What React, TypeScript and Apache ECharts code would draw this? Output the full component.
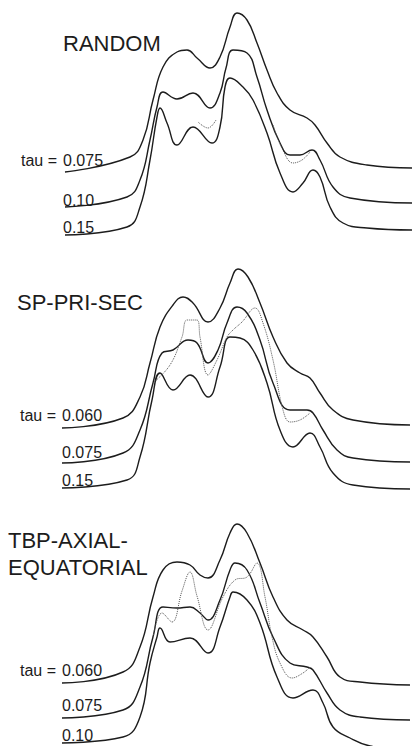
import React, { useEffect, useRef } from "react";
import * as echarts from "echarts";

// x: scattering variable (arbitrary units), y: intensity (arbitrary units, offset per curve)
// Panel 1: RANDOM
const randomTau0075: number[][] = [
  [6.5, 7.8], [13.0, 9.3], [14.3, 11.0], [15.3, 15.0], [16.3, 18.3], [17.7, 19.8], [18.7, 20.0],
  [19.7, 19.2], [21.0, 18.2], [22.0, 19.3], [23.0, 22.3], [23.7, 23.7], [24.7, 23.0], [25.7, 20.7],
  [26.7, 18.0], [27.7, 15.7], [29.0, 14.0], [30.7, 13.2], [31.5, 12.5], [32.7, 10.7], [34.0, 9.3],
  [36.7, 8.5], [41.2, 8.2],
];
const randomTau010: number[][] = [
  [6.5, 4.3], [12.7, 5.3], [14.0, 7.0], [15.0, 11.0], [15.7, 14.3], [16.3, 15.8], [17.7, 15.1],
  [19.3, 15.7], [21.0, 14.2], [22.0, 15.7], [22.6, 18.2], [23.3, 20.0], [24.7, 19.7], [25.7, 17.3],
  [26.7, 14.0], [28.0, 10.7], [29.0, 9.5], [30.0, 9.5], [31.2, 10.0], [32.0, 9.0], [33.3, 6.3],
  [35.0, 5.2], [41.2, 4.7],
];
const randomTau015: number[][] = [
  [6.5, 1.5], [12.7, 2.3], [14.0, 4.3], [15.0, 9.0], [15.7, 13.3], [16.0, 14.2], [16.7, 12.7],
  [17.7, 10.5], [19.3, 12.3], [21.2, 10.7], [22.0, 12.3], [22.5, 16.3], [23.0, 17.2], [24.3, 16.3],
  [25.3, 15.0], [26.7, 11.7], [28.0, 7.7], [29.3, 5.8], [30.3, 6.7], [31.3, 8.0], [32.0, 7.3],
  [33.0, 4.3], [34.3, 2.7], [36.7, 2.2], [41.2, 2.0],
];
const randomExpA: number[][] = [[19.8, 12.8], [20.8, 12.2], [21.6, 13.0]];
const randomExpB: number[][] = [[27.3, 12.5], [28.2, 10.2], [29.3, 8.7], [30.2, 9.0], [31.0, 9.8]];

// Panel 2: SP-PRI-SEC
const spTau0060: number[][] = [
  [6.2, 7.2], [12.3, 8.2], [14.0, 10.3], [15.0, 13.7], [16.0, 17.3], [17.3, 19.5], [18.3, 20.3],
  [19.3, 19.7], [20.8, 17.8], [22.0, 19.2], [23.0, 21.7], [23.8, 23.1], [24.8, 22.3], [26.0, 19.7],
  [27.3, 16.3], [28.7, 13.7], [30.0, 12.7], [31.0, 12.2], [32.0, 10.7], [33.3, 9.0], [35.3, 8.0],
  [41.0, 7.5],
];
const spTau0075: number[][] = [
  [6.2, 3.7], [12.3, 4.7], [14.0, 7.0], [15.3, 11.7], [16.2, 14.7], [17.3, 15.0], [18.8, 16.0],
  [19.7, 15.7], [20.8, 13.7], [21.8, 15.0], [22.7, 17.7], [23.7, 19.3], [24.7, 18.7], [26.0, 16.0],
  [27.3, 11.7], [29.0, 9.0], [30.7, 9.0], [31.3, 8.7], [32.3, 7.0], [33.7, 5.0], [35.3, 4.2],
  [41.0, 3.8],
];
const spTau015: number[][] = [
  [6.2, 1.2], [12.7, 2.0], [14.0, 4.3], [15.2, 10.0], [16.0, 12.7], [17.3, 11.0], [19.0, 12.5],
  [20.8, 10.3], [22.0, 13.3], [23.0, 16.3], [24.0, 16.2], [25.3, 15.0], [26.7, 11.7], [28.0, 7.0],
  [29.3, 5.3], [31.0, 6.7], [32.0, 5.3], [33.3, 2.7], [35.3, 1.5], [41.0, 1.1],
];
const spExp: number[][] = [
  [15.3, 11.7], [17.0, 13.5], [18.2, 16.3], [18.7, 18.0], [19.7, 18.0], [20.0, 16.3], [20.8, 12.5],
  [21.7, 14.0], [22.7, 16.3], [23.3, 17.0], [24.2, 17.8], [25.5, 19.2], [26.3, 17.7], [27.3, 14.0],
  [28.3, 9.0], [29.0, 7.8], [30.0, 8.0], [31.0, 8.7],
];

// Panel 3: TBP-AXIAL-EQUATORIAL
const tbpTau0060: number[][] = [
  [6.2, 6.3], [12.3, 7.4], [14.0, 9.9], [15.3, 14.9], [16.3, 17.6], [17.7, 18.4], [19.0, 18.1],
  [20.0, 17.1], [20.8, 16.8], [22.0, 18.6], [23.0, 21.3], [23.7, 22.2], [24.7, 21.3], [26.0, 18.3],
  [27.3, 14.9], [28.7, 12.6], [30.3, 11.6], [31.3, 10.9], [32.7, 8.9], [34.0, 6.9], [36.0, 6.4],
  [41.0, 6.1],
];
const tbpTau0075: number[][] = [
  [6.2, 2.8], [12.3, 3.6], [14.0, 5.9], [15.3, 10.9], [16.3, 13.9], [17.7, 13.8], [19.0, 13.9],
  [20.0, 13.3], [20.8, 12.6], [22.0, 14.6], [23.0, 17.6], [23.5, 18.3], [24.7, 17.6], [26.0, 14.3],
  [27.3, 10.9], [29.0, 8.3], [30.7, 7.9], [31.3, 7.6], [32.7, 5.3], [34.0, 3.6], [36.0, 2.9],
  [41.0, 2.6],
];
const tbpTau010: number[][] = [
  [6.2, 0.3], [12.3, 0.9], [14.0, 2.9], [15.0, 8.3], [15.7, 10.9], [16.0, 11.8], [17.0, 10.4],
  [19.0, 10.8], [20.8, 9.3], [22.0, 11.9], [23.0, 14.9], [23.3, 15.4], [24.7, 14.6], [26.0, 12.3],
  [27.7, 6.9], [29.3, 4.8], [31.3, 5.6], [32.3, 4.3], [33.3, 1.9], [35.0, 0.8], [37.0, 0.0],
  [41.2, -0.6],
];
const tbpExp: number[][] = [
  [15.3, 10.9], [16.2, 13.3], [17.2, 12.4], [18.2, 15.5], [19.0, 17.4], [19.7, 15.0], [20.8, 11.6],
  [22.3, 14.9], [23.5, 16.6], [24.7, 16.9], [25.7, 18.3], [26.5, 14.9], [27.2, 10.9], [28.0, 8.3],
  [29.2, 6.8], [30.3, 7.3], [31.0, 7.9],
];

const panelTitles: string[][] = [["RANDOM"], ["SP-PRI-SEC"], ["TBP-AXIAL-", "EQUATORIAL"]];
const panelTauLabels: string[][] = [
  ["0.075", "0.10", "0.15"],
  ["0.060", "0.075", "0.15"],
  ["0.060", "0.075", "0.10"],
];

const INK = "#1c1c1c";

export default function App() {
  const ref = useRef<HTMLDivElement>(null);
  useEffect(() => {
    if (!ref.current) return;
    const chart = echarts.init(ref.current, undefined, { renderer: "svg" });

    const grids = [
      { left: 0, top: 0, width: 412, height: 250 },
      { left: 0, top: 250, width: 412, height: 250 },
      { left: 0, top: 496, width: 412, height: 250 },
    ];
    const xAxes = grids.map((_, i) => ({ type: "value", gridIndex: i, min: 0, max: 41.2, show: false }));
    const yAxes = grids.map((_, i) => ({ type: "value", gridIndex: i, min: 0, max: 25, show: false }));

    const solid = (data: number[][], idx: number) => ({
      type: "line",
      xAxisIndex: idx,
      yAxisIndex: idx,
      data,
      smooth: 0.45,
      showSymbol: false,
      clip: false,
      lineStyle: { color: INK, width: 1.4 },
      silent: true,
    });
    const dotted = (data: number[][], idx: number) => ({
      type: "line",
      xAxisIndex: idx,
      yAxisIndex: idx,
      data,
      smooth: 0.4,
      showSymbol: false,
      clip: false,
      lineStyle: { color: "#555", width: 1, type: "dotted" },
      silent: true,
    });

    const series = [
      solid(randomTau0075, 0), solid(randomTau010, 0), solid(randomTau015, 0),
      dotted(randomExpA, 0), dotted(randomExpB, 0),
      solid(spTau0060, 1), solid(spTau0075, 1), solid(spTau015, 1), dotted(spExp, 1),
      solid(tbpTau0060, 2), solid(tbpTau0075, 2), solid(tbpTau010, 2), dotted(tbpExp, 2),
    ];

    const font = "'Liberation Sans', Arial, sans-serif";
    const titleStyle = (text: string, x: number, y: number) => ({
      type: "text",
      left: x,
      top: y,
      style: { text, font: `22px ${font}`, fill: INK },
    });
    const label = (text: string, x: number, y: number, align: string = "left") => ({
      type: "text",
      x,
      y,
      style: { text, font: `16px ${font}`, fill: INK, textAlign: align, textVerticalAlign: "middle" },
    });

    const titlePos = [
      [[63, 32]],
      [[17, 291]],
      [[8, 529], [8, 556]],
    ];
    const labelY = [
      [160, 200, 227],
      [415, 452, 480],
      [670, 705, 735],
    ];
    const labelX = [63, 62, 62];

    const graphic: any[] = [];
    panelTitles.forEach((lines, p) => {
      lines.forEach((t, k) => graphic.push(titleStyle(t, titlePos[p][k][0], titlePos[p][k][1])));
    });
    panelTauLabels.forEach((labs, p) => {
      labs.forEach((t, k) => graphic.push(label(t, labelX[p], labelY[p][k])));
      graphic.push(label("tau =", labelX[p] - 6, labelY[p][0], "right"));
    });

    chart.setOption({
      animation: false,
      backgroundColor: "#ffffff",
      grid: grids,
      xAxis: xAxes,
      yAxis: yAxes,
      series,
      graphic,
    });
    return () => chart.dispose();
  }, []);
  return (
    <div
      ref={ref}
      style={{ position: "fixed", left: 0, top: 0, width: 412, height: 746, background: "#fff" }}
    />
  );
}
